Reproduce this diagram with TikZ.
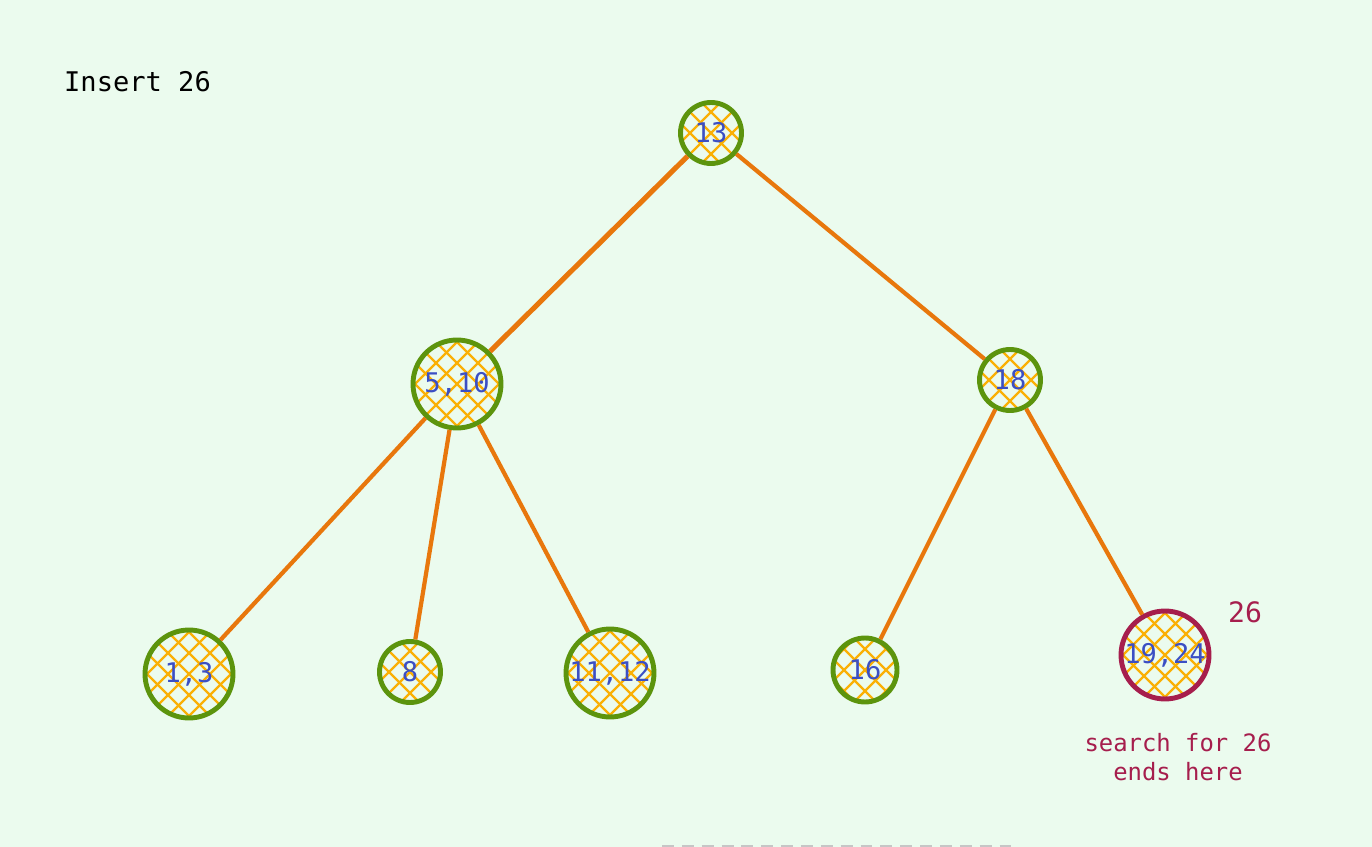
\documentclass[tikz,border=0pt]{standalone}
\usepackage{fontspec}
\setmonofont{DejaVu Sans Mono}
\usepackage{tikz}
\usetikzlibrary{positioning}
\usepackage{xcolor}
\definecolor{BgGreen}{RGB}{235,251,238}
\definecolor{NodeGreen}{RGB}{92,148,13}
\definecolor{HatchGold}{RGB}{250,176,5}
\definecolor{EdgeOrange}{RGB}{232,119,12}
\definecolor{KeyBlue}{RGB}{59,79,196}
\definecolor{HitRed}{RGB}{166,30,77}

\begin{document}
\begin{tikzpicture}[x=0.02cm,y=-0.02cm,
  keynode/.style={circle,draw=NodeGreen,line width=2.8pt,inner sep=0pt,
                  text=KeyBlue,font=\ttfamily\fontsize{15.4}{18}\selectfont,
                  path picture={
                    \foreach \k in {-6,...,6}{
                      \draw[HatchGold,line width=1.3pt]
                        ([shift={(\k*21-70,-70)}]path picture bounding box.center) -- ++(140,140);
                      \draw[HatchGold,line width=1.3pt]
                        ([shift={(\k*21+70,-70)}]path picture bounding box.center) -- ++(-140,140);
                    }}},
  bigkey/.style={keynode,minimum size=1.76cm},
  smallkey/.style={keynode,minimum size=1.22cm},
  edge/.style={draw=EdgeOrange,line width=2.4pt},
  note/.style={text=HitRed,font=\ttfamily\fontsize{13.6}{16.4}\selectfont,align=center},
]
\useasboundingbox[fill=BgGreen] (0,0) rectangle (1372,847);

% title
\node[anchor=west,font=\ttfamily\fontsize{15.4}{18}\selectfont] (title) at (58,82) {Insert 26};

% keys
\node[smallkey] (k13) at (711,133) {13};
\node[bigkey] (k510) at (457,384) {5,10};
\node[smallkey] (k18) at (1010,380) {18};
\node[bigkey] (k13b) at (189,674) {1,3};
\node[smallkey] (k8) at (410,672) {8};
\node[bigkey] (k1112) at (610,673) {11,12};
\node[smallkey,minimum size=1.28cm] (k16) at (865,670) {16};
\node[bigkey,draw=HitRed] (k1924) at (1165,655) {19,24};

% edges
\draw[edge,line width=2.9pt] (k13) -- (k510);
\draw[edge] (k13) -- (k18);
\draw[edge] (k510) -- (k13b);
\draw[edge] (k510) -- (k8);
\draw[edge] (k510) -- (k1112);
\draw[edge] (k18) -- (k16);
\draw[edge] (k18) -- (k1924);

% search result
\node[note,font=\ttfamily\fontsize{16}{18}\selectfont] (newkey) at (1245,612) {26};
\node[note] (endnote) at (1178,757) {search for 26\\ends here};

\draw[gray!45,line width=1.5pt,dash pattern=on 6.8pt off 4.5pt] (662,846) -- (1015,846);
\end{tikzpicture}
\end{document}
